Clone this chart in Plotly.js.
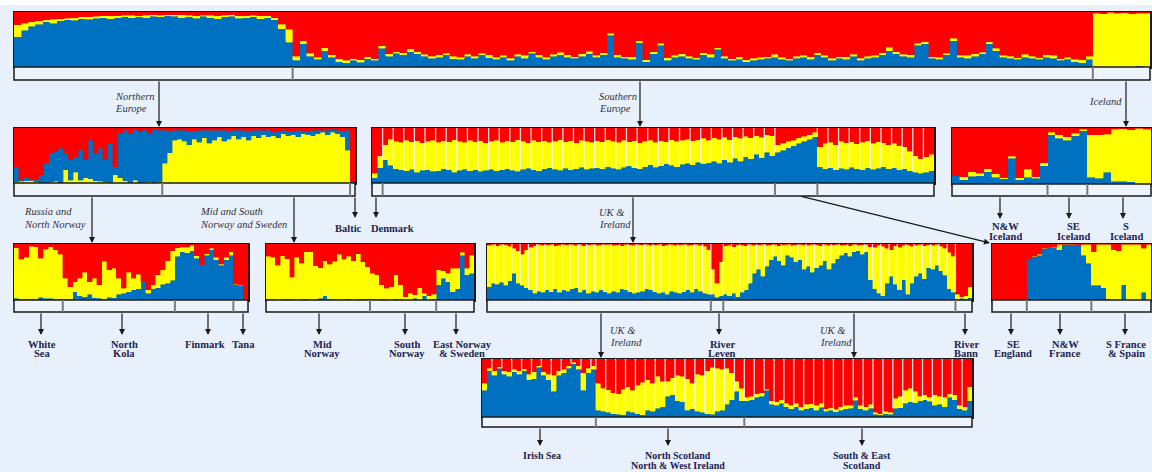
<!DOCTYPE html>
<html><head><meta charset="utf-8">
<script src="https://cdn.plot.ly/plotly-3.0.1.min.js"></script>
<style>html,body{margin:0;padding:0;background:#e8f0fb;overflow:hidden}</style>
</head><body><div id="chart" style="width:1152px;height:472px"></div>
<script>
// ===== DATA (ancestry proportions in %, red = remainder) =====
// Top panel: all samples
const topBlue = [55,67,74,78,82,80,84,86,85,88, 87,89,90,88,90,91,90,91,90,92, 91,93,92,90,91,89,92,90,88,91, 92,89,90,91,88,90,86,70,45,
 12,42,20,14,30,18,10,8,12,9, 15,12,34,20,25,22,28,24,20,16, 18,22,15,14,20,16,22,17,14,18, 12,20,16,25,18,14,20,22,18,16,
 20,24,18,22,58,18,16,14,44,10, 24,40,12,18,20,16,14,22,18,32, 16,12,14,10,12,14,16,18,14,12, 16,18,14,22,18,12,16,14,20,12,
 16,18,22,30,24,20,18,40,42,16, 14,22,48,18,16,20,24,42,30,18, 16,14,18,16,14,18,16,12,14,10,8,14,
 0,0,0,0,0,0,2,0];
const topYellow = [22,13,8,6,4,7,4,3,5,3, 4,3,3,5,3,3,4,2,4,3, 3,2,3,5,3,4,2,4,5,3, 3,4,3,3,5,3,4,8,24,
 8,6,5,4,5,4,5,4,3,4, 4,3,5,4,3,4,5,4,3,4, 4,3,5,4,3,4,3,5,4,3, 4,3,5,3,4,4,3,5,4,3,
 4,5,3,4,3,4,3,5,4,3, 4,3,5,3,4,4,3,4,5,3, 4,3,5,3,4,4,3,5,4,3, 4,3,5,4,3,4,3,5,3,4,
 4,3,4,6,4,3,4,3,4,3, 4,3,4,3,5,4,3,4,4,3, 4,3,5,4,3,4,5,3,4,4,5,6,
 98,97,100,98,99,97,96,98];
const topGroups = [39,112,8];

// Northern Europe panel (stack: yellow, blue, red)
const nEurBlue = [28,2,6,0,6,15,36,52,54,63, 30,37,28,55,32,70,50,60,40,72, 15,80,92,90,94,93,96,88,99,94,
 60,40,18,16,20,24,15,22,14,24, 18,12,20,14,10,16,12,16,10,14, 8,12,6,12,6,8,6,12,4,6, 10,6,4,8,5,6,10,36, 2];
const nEurYellow = [2,3,4,5,2,0,0,2,3,0, 24,5,20,5,10,8,4,3,2,0, 15,10,4,0,5,0,0,2,0,2,
 36,55,78,80,76,70,80,74,82,72, 78,84,76,80,86,80,84,78,86,82, 88,84,86,82,90,86,88,84,90,88, 86,90,92,88,92,90,84,60, 0];
const nEurGroups = [30,38,1];

// Southern Europe panel
const sEurBlue = [10,28,
 42,32,26,24,22,25,20,23,24,21, 22,26,24,20,23,25,22,24,21,23,
 25,22,24,26,23,21,25,27,24,22, 26,28,25,23,27,24,26,29,25,27,
 28,26,30,27,25,29,31,28,26,30, 33,29,31,35,32,30,34,36,33,38,
 35,37,40,36,42,38,45,40,48,44, 52,46,56,50,
 56,60,64,68,72,76,80,84,
 30,26,28,24,27,25,29,26,24,28, 25,27,30,26,28,24,26,22,20,18, 20,22];
const sEurYellow = [8,22,
 28,48,50,50,56,50,57,50,52,57, 52,51,51,59,53,49,56,51,56,50,
 51,56,50,51,52,58,51,46,54,53, 51,46,51,56,48,53,47,49,51,47,
 49,49,49,49,49,49,44,49,47,46, 45,45,46,40,47,46,44,44,44,41,
 46,41,42,44,41,41,39,41,37,38, 34,37,32,36,
 14,12,12,10,10,9,8,8,
 36,46,46,46,49,48,46,45,50,49, 47,48,43,44,44,44,40,36,30,26, 28,30];
const sEurGroups = [2,74,8,22];
const sEurPops = [2, 2,2,2,2,2,2,2,2,2,2, 2,2,2,2,2,2,2,2,2,2, 2,2,2,2,2,2,2,2,2,2, 2,2,2,2,2,2,2, 8, 2,2,2,2,2,2,2,2,2,2,2];

// Iceland panel
const iceBlue = [15,8,14,15,22,12,9,46,8,12,10,33, 88,82,78,86,95, 12,10,21,5,5,4,0,0];
const iceYellow = [0,5,8,4,5,6,2,4,3,14,3,5, 4,6,6,5,3, 76,78,68,93,94,93,100,98];
const iceGroups = [12,5,8];

// Russia & North Norway panel
const rusBlue = [3,1,1,2,2,5,3,3,2,2,
 2,2,15,8,6,10,4,3,2,5, 4,10,12,15,18,20,33,12,20,22, 28,30,35,
 78,86,84,88,75,63,80,90,72,62,72,80,
 28,26,0];
const rusYellow = [90,72,75,94,93,70,88,92,88,80,
 37,22,18,31,44,23,35,24,67,49, 53,29,9,35,21,26,0,6,7,23, 26,40,53,
 15,8,10,10,4,0,3,2,4,2,4,6,
 0,0,0];
const rusGroups = [10,23,12,3];

// Mid & South Norway and Sweden panel
const norBlue = [2,1,0,1,2,1,0,1,2,0, 1,3,8,2,1,0,1,2,0,1, 2,1,
 1,0,2,1,0,2,1,0,0,3,0,8,0,2,
 27,39,33,15,20,80,45,48];
const norYellow = [76,75,62,78,72,40,76,65,84,86, 60,55,62,62,68,82,72,76,70,82, 66,58,
 47,45,25,20,24,43,26,6,12,6,22,4,8,8,
 27,13,15,42,37,5,12,32];
const norGroups = [22,14,8];

// UK & Ireland panel
const ukBlue = [24,30,28,32,26,34,48,30,26,22, 18,12,16,14,18,15,20,14,18,16,
 20,22,14,18,12,16,14,18,15,12, 16,14,20,18,15,12,14,16,20,18,
 15,12,14,10,16,14,12,15,18,14, 20,16,12,10,
 10,5,8,
 10,8,12,6,14,18,30,48,55,42, 60,72,78,70,62,80,76,68,72,55,
 60,50,58,62,70,55,66,74,80,84, 78,86,88,82,86,36,20,12,8,30,
 42,28,18,36,10,30,42,48,38,58, 55,62,52,44,20,14,
 2,3,2,4];
const ukYellow = [74,70,69,68,73,62,44,58,56,68, 76,85,84,84,81,85,77,84,82,83,
 80,76,86,79,87,84,84,81,85,88, 82,85,77,82,84,86,86,83,80,80,
 84,88,83,89,84,84,87,85,80,85, 80,82,84,80,
 45,25,60,
 87,90,83,93,84,79,70,50,44,58, 38,27,22,27,37,20,22,31,28,44,
 38,50,41,35,30,43,33,26,18,15, 19,14,10,17,14,59,74,86,88,62,
 48,69,76,62,89,66,56,52,59,41, 43,38,44,48,65,64,
 8,3,6,20];
const ukGroups = [54,3,56,4];
const ukPops = [2,2,2,2,2,2,2,2,2,2, 2,2,2,2,2,2,2,2,2,2, 2,2,2,2,2,2,2, 3,
 2,2,2,2,2,2,2,2,2,2, 2,2,2,2,2,2,2,2,2,2, 2,2,2,2,2,2,2,2, 4];

// SE England / France / Spain panel
const frBlue = [0,0,0,0,0,0,0, 72,78,80,92,95,94,90,100,100,100,99,80,66, 26,26,22,2,0,0,27,0,0,0,14,0];
const frYellow = [0,0,0,0,0,0,0, 0,0,2,0,0,0,10,0,0,0,0,20,34, 60,74,78,98,90,88,73,100,100,100,78,100];
const frGroups = [7,13,12];

// Scotland / Irish Sea panel
const scoBlue = [46,80,72,84,74,70,78,74,80,64, 66,86,72,64,44,72,76,84,92,82, 46,76,82,
 12,10,8,6,5,4,10,8,6,4, 12,10,15,18,36,38,28,26,12,14, 10,8,6,5,10,12,22,30,44,28,
 28,30,34,36,46,22,20,24,18,14, 18,12,14,16,12,17,10,12,9,12, 14,15,29,14,12,15,5,4,6,5,
 15,16,24,26,25,28,30,27,20,22, 18,34,30,14,12,28];
const scoYellow = [12,4,8,3,6,8,4,6,3,10, 12,2,6,10,28,8,6,4,2,6, 30,8,6,
 46,40,39,36,35,44,42,38,49,56, 52,48,55,44,26,30,44,44,54,44, 64,64,74,81,74,70,62,46,18,22,
 6,6,6,6,2,6,6,6,6,6, 6,6,8,7,8,7,4,4,4,6, 6,5,5,6,6,7,3,2,4,3,
 17,20,22,24,19,8,8,7,18,14, 16,6,8,6,6,24];
const scoGroups = [23,30,46];
const scoPops = [2,2,2,2,2,2,2,2,2,2,2,1,
 2,2,2,2,2,2,2,2,2,2,2,2,2,2,2,
 2,2,2,2,2,2,2,2,2,2,2,2,2,2,2,2,2,2,2,2,2,2,2];

// ===== LAYOUT =====
const W = 1152, H = 472;
const BLUE = '#0070c0', YELLOW = '#ffff00', RED = '#ff0000';
const panels = [
  {blue: topBlue, yel: topYellow, groups: topGroups, pops: null, order: 'byr', box: [14, 12, 1150, 67, 80]},
  {blue: nEurBlue, yel: nEurYellow, groups: nEurGroups, pops: null, order: 'ybr', box: [14, 128, 355, 183, 196]},
  {blue: sEurBlue, yel: sEurYellow, groups: sEurGroups, pops: sEurPops, order: 'byr', box: [372, 128, 934, 183, 196]},
  {blue: iceBlue, yel: iceYellow, groups: iceGroups, pops: null, order: 'byr', box: [952, 128, 1151, 184, 196]},
  {blue: rusBlue, yel: rusYellow, groups: rusGroups, pops: null, order: 'byr', box: [14, 244, 248, 300, 312]},
  {blue: norBlue, yel: norYellow, groups: norGroups, pops: null, order: 'byr', box: [266, 244, 474, 300, 312]},
  {blue: ukBlue, yel: ukYellow, groups: ukGroups, pops: ukPops, order: 'byr', box: [487, 244, 972, 300, 312]},
  {blue: frBlue, yel: frYellow, groups: frGroups, pops: null, order: 'byr', box: [992, 244, 1151, 300, 312]},
  {blue: scoBlue, yel: scoYellow, groups: scoGroups, pops: scoPops, order: 'byr', box: [482, 359, 972, 417, 427]}
];

const traces = [], shapes = [], annotations = [];
const layout = {
  width: W, height: H, margin: {l: 0, r: 0, t: 0, b: 0},
  paper_bgcolor: '#e8f0fb', plot_bgcolor: '#e8f0fb',
  barmode: 'stack', bargap: 0, showlegend: false, hovermode: false
};
const px = x => x / W, py = y => 1 - y / H;

shapes.push({type: 'rect', xref: 'paper', yref: 'paper', x0: 0, x1: 1, y0: py(5), y1: 1, fillcolor: '#ffffff', line: {width: 0}, layer: 'below'});

panels.forEach((p, k) => {
  const id = k === 0 ? '' : String(k + 1);
  const xa = 'x' + id, ya = 'y' + id;
  const n = p.blue.length;
  const idx = p.blue.map((_, i) => i);
  const red = p.blue.map((b, i) => 100 - b - p.yel[i]);
  const comps = {b: [p.blue, BLUE], y: [p.yel, YELLOW], r: [red, RED]};
  p.order.split('').forEach(key => {
    const [vals, col] = comps[key];
    traces.push({type: 'bar', x: idx, y: vals.map(v => v / 100), xaxis: xa, yaxis: ya, width: 1,
      marker: {color: col, line: {color: col, width: 0.4}}, hoverinfo: 'skip'});
  });
  const [x0, y0, x1, y1, y2] = p.box;
  const ax = {showgrid: false, zeroline: false, showticklabels: false, ticks: '', showline: true, mirror: true,
    linecolor: '#1a1a1a', linewidth: 1.5, fixedrange: true};
  layout['xaxis' + id] = Object.assign({domain: [px(x0), px(x1)], range: [-0.5, n - 0.5], anchor: ya}, ax);
  layout['yaxis' + id] = Object.assign({domain: [py(y1), py(y0)], range: [0, 1], anchor: xa}, ax);
  // population separators
  if (p.pops) {
    let s = 0;
    p.pops.slice(0, -1).forEach(q => {
      s += q;
      const lo = Math.max(p.blue[s - 1], p.blue[s]) / 100;
      shapes.push({type: 'line', xref: xa, yref: ya, x0: s - 0.5, x1: s - 0.5, y0: lo, y1: 1,
        line: {color: 'rgba(255,255,255,0.85)', width: 1.3}});
    });
  }
  // group bar
  shapes.push({type: 'rect', xref: 'paper', yref: 'paper', x0: px(x0), x1: px(x1), y0: py(y2), y1: py(y1),
    fillcolor: '#eef4fc', line: {color: '#1a1a1a', width: 1.5}});
  let c = 0;
  p.groups.slice(0, -1).forEach(g => {
    c += g;
    shapes.push({type: 'line', xref: xa, yref: 'paper', x0: c - 0.5, x1: c - 0.5, y0: py(y2), y1: py(y1),
      line: {color: '#7a7a7a', width: 2}});
  });
});

// arrows: [tipX, tailY, tipY, tailX]
const arrows = [
  [159, 80, 127], [640, 80, 127], [1126, 80, 127],
  [92, 196, 243], [294, 196, 243], [355, 196, 218], [376, 196, 218], [633, 196, 243], [990, 196, 243, 800],
  [1000, 196, 219], [1069, 196, 219], [1123, 196, 219],
  [41, 312, 335], [122, 312, 335], [208, 312, 335], [243, 312, 335],
  [319, 312, 335], [405, 312, 335], [456, 312, 335],
  [601, 312, 358], [719, 312, 335], [854, 312, 358], [965, 312, 335],
  [1011, 312, 335], [1060, 312, 335], [1125, 312, 335],
  [540, 427, 446], [668, 427, 446], [862, 427, 446]
];
arrows.forEach(([x, t, tip, tx]) => {
  annotations.push({x: px(x), y: py(tip), xref: 'paper', yref: 'paper', axref: 'pixel', ayref: 'pixel',
    ax: (tx === undefined ? 0 : tx - x), ay: t - tip, text: '', showarrow: true,
    arrowhead: 2, arrowsize: 1, arrowwidth: 1.2, arrowcolor: '#1a1a1a', standoff: 0});
});

const italicLabels = [
  {lines: ['Northern', 'Europe'], x: 113, y: [96, 109]},
  {lines: ['Southern', 'Europe'], x: 597, y: [96, 109]},
  {lines: ['Iceland'], x: 1087, y: [102]},
  {lines: ['Russia and', 'North Norway'], x: 22, y: [211, 225]},
  {lines: ['Mid and South', 'Norway and Sweden'], x: 198, y: [211, 225]},
  {lines: ['UK &amp;', 'Ireland'], x: 597, y: [212, 225]},
  {lines: ['UK &amp;', 'Ireland'], x: 608, y: [330, 342]},
  {lines: ['UK &amp;', 'Ireland'], x: 818, y: [330, 342]}
];
const boldLabels = [
  {lines: ['Baltic'], x: 348, y: [229], s: 10.5},
  {lines: ['Denmark'], x: 392, y: [229], s: 10.5},
  {lines: ['N&amp;W', 'Iceland'], x: 1005, y: [226, 236], s: 10.5},
  {lines: ['SE', 'Iceland'], x: 1073, y: [226, 236], s: 10.5},
  {lines: ['S', 'Iceland'], x: 1126, y: [226, 236], s: 10.5},
  {lines: ['White', 'Sea'], x: 42, y: [344, 353], s: 10.5},
  {lines: ['North', 'Kola'], x: 124, y: [344, 353], s: 10.5},
  {lines: ['Finmark'], x: 205, y: [344], s: 10.5},
  {lines: ['Tana'], x: 243, y: [344], s: 10.5},
  {lines: ['Mid', 'Norway'], x: 322, y: [344, 353], s: 10.5},
  {lines: ['South', 'Norway'], x: 407, y: [344, 353], s: 10.5},
  {lines: ['East Norway', '&amp; Sweden'], x: 462, y: [344, 353], s: 10.5},
  {lines: ['River', 'Leven'], x: 722, y: [344, 353], s: 10.5},
  {lines: ['River', 'Bann'], x: 966, y: [344, 353], s: 10.5},
  {lines: ['SE', 'England'], x: 1013, y: [344, 353], s: 10.5},
  {lines: ['N&amp;W', 'France'], x: 1065, y: [344, 353], s: 10.5},
  {lines: ['S France', '&amp; Spain'], x: 1126, y: [344, 353], s: 10.5},
  {lines: ['Irish Sea'], x: 542, y: [455], s: 10},
  {lines: ['North Scotland', 'North &amp; West Ireland'], x: 678, y: [455, 465], s: 10},
  {lines: ['South &amp; East', 'Scotland'], x: 862, y: [455, 465], s: 10}
];
italicLabels.forEach(l => l.lines.forEach((t, i) => annotations.push({
  x: px(l.x), y: py(l.y[i]), xref: 'paper', yref: 'paper', text: '<i>' + t + '</i>', showarrow: false,
  xanchor: 'left', yanchor: 'middle', font: {family: 'Liberation Serif, DejaVu Serif, serif', size: 10.5, color: '#33333d'}
})));
boldLabels.forEach(l => l.lines.forEach((t, i) => annotations.push({
  x: px(l.x), y: py(l.y[i]), xref: 'paper', yref: 'paper', text: '<b>' + t + '</b>', showarrow: false,
  xanchor: 'center', yanchor: 'middle', font: {family: 'Liberation Serif, DejaVu Serif, serif', size: l.s, color: '#1c2452'}
})));

layout.shapes = shapes;
layout.annotations = annotations;
Plotly.newPlot('chart', traces, layout, {staticPlot: true, displayModeBar: false});
</script></body></html>
